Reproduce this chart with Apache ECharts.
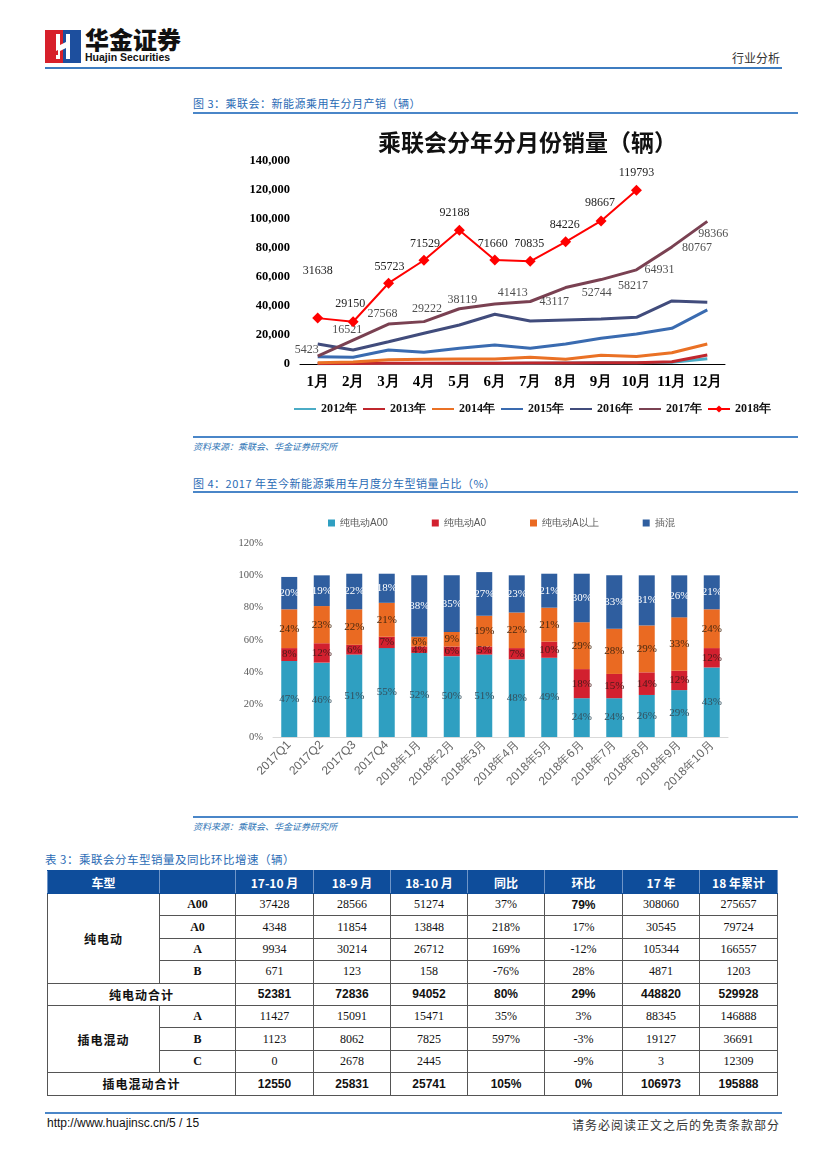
<!DOCTYPE html>
<html><head><meta charset="utf-8">
<script src="https://cdn.jsdelivr.net/npm/echarts@6/dist/echarts.min.js"></script>
<style>
html,body{margin:0;padding:0;background:#fff;}
#page{position:relative;width:827px;height:1169px;background:#fff;overflow:hidden;font-family:"Noto Sans CJK SC",sans-serif;}
.abs{position:absolute;}
.cap{font-size:11px;color:#2a6bb5;letter-spacing:0.5px;}
.src{font-size:9px;color:#2e75b6;font-style:italic;}
.bline{height:1.5px;background:#4a86c8;}
table{border-collapse:collapse;table-layout:fixed;}
td,th{border:1px solid #555;text-align:center;vertical-align:middle;padding:0;font-size:12px;font-family:"Liberation Serif",serif;color:#111;height:21.4px;}
th{background:#0e4d9b;color:#fff;font-family:"Noto Sans CJK SC",sans-serif;font-weight:bold;border-color:#0e4d9b;border-left:1px solid #6f95c8;border-right:1px solid #6f95c8;height:22px;}
td.b{font-weight:bold;font-family:"Liberation Sans",sans-serif;}
td.cn{font-family:"Noto Sans CJK SC",sans-serif;font-weight:bold;letter-spacing:1px;}
</style>
</head><body>
<div id="page">
  <svg class="abs" style="left:45px;top:30px" width="36" height="33">
    <rect x="0" y="0" width="18" height="33" fill="#d7202b"/>
    <rect x="18" y="0" width="18" height="33" fill="#1d4f9e"/>
    <path d="M11 4 h4 v11 l6 -3 v-8 h4 v25 h-4 v-11 l-6 3 v8 h-4 v-4 h2 v-5 l-2 1 z" fill="#fff"/>
  </svg>
  <div class="abs" style="left:85px;top:25px;font-size:24px;font-weight:900;color:#111;line-height:28px;">华金证券</div>
  <div class="abs" style="left:85px;top:51px;font-size:10.5px;font-weight:bold;color:#111;font-family:'Liberation Sans',sans-serif;line-height:12px;">Huajin Securities</div>
  <div class="abs" style="right:47px;top:49px;font-size:12px;color:#333;">行业分析</div>
  <div class="abs" style="left:45px;top:67px;width:737px;height:2px;background:#3d7cc0;"></div>

  <div class="abs cap" style="left:193px;top:95px;">图 3：乘联会：新能源乘用车分月产销（辆）</div>
  <div class="abs bline" style="left:193px;top:112px;width:605px;"></div>
  <div id="c1" class="abs" style="left:193px;top:118px;width:605px;height:318px;"></div>
  <div class="abs bline" style="left:193px;top:436px;width:605px;"></div>
  <div class="abs src" style="left:193px;top:440px;">资料来源：乘联会、华金证券研究所</div>

  <div class="abs cap" style="left:193px;top:475px;">图 4：2017 年至今新能源乘用车月度分车型销量占比（%）</div>
  <div class="abs bline" style="left:193px;top:491px;width:605px;"></div>
  <div id="c2" class="abs" style="left:193px;top:495px;width:605px;height:320px;"></div>
  <div class="abs bline" style="left:193px;top:816px;width:605px;"></div>
  <div class="abs src" style="left:193px;top:820px;">资料来源：乘联会、华金证券研究所</div>

  <div class="abs cap" style="left:45px;top:851px;font-size:11.5px;">表 3：乘联会分车型销量及同比环比增速（辆）</div>
  <div id="tbl" class="abs" style="left:47px;top:870px;"></div>

  <div class="abs" style="left:45px;top:1112px;width:737px;height:1.5px;background:#4a86c8;"></div>
  <div class="abs" style="left:47px;top:1116px;font-size:12px;color:#111;font-family:'Liberation Sans',sans-serif;">http://www.huajinsc.cn/5 / 15</div>
  <div class="abs" style="right:47px;top:1116px;font-size:12px;color:#333;letter-spacing:1px;">请务必阅读正文之后的免责条款部分</div>
</div>
<script>
// ---- Chart 1 data ----
const months = ['1月','2月','3月','4月','5月','6月','7月','8月','9月','10月','11月','12月'];
const sales2012 = [200, 300, 300, 400, 500, 500, 600, 700, 800, 900, 1200, 3700];
const sales2013 = [300, 400, 500, 500, 600, 600, 700, 700, 800, 900, 1600, 6200];
const sales2014 = [900, 1300, 3000, 3300, 3400, 3500, 4600, 3200, 6000, 5100, 7800, 13800];
const sales2015 = [5000, 4600, 9700, 8100, 10800, 13100, 10800, 13800, 17700, 20700, 24600, 37300];
const sales2016 = [13800, 9700, 15400, 21200, 26900, 34300, 29700, 30400, 31000, 32200, 43500, 42600];
const sales2017 = [5423, 16521, 27568, 29222, 38119, 41413, 43117, 52744, 58217, 64931, 80767, 98366];
const sales2018 = [31638, 29150, 55723, 71529, 92188, 71660, 70835, 84226, 98667, 119793];
const yearNames = ['2012年','2013年','2014年','2015年','2016年','2017年','2018年'];
const yTicks1 = [0, 140000, 20000];

// ---- Chart 2 data ----
const shareCats = ['2017Q1','2017Q2','2017Q3','2017Q4','2018年1月','2018年2月','2018年3月','2018年4月','2018年5月','2018年6月','2018年7月','2018年8月','2018年9月','2018年10月'];
const shareNames = ['纯电动A00','纯电动A0','纯电动A以上','插混'];
const shareA00 = [47, 46, 51, 55, 52, 50, 51, 48, 49, 24, 24, 26, 29, 43];
const shareA0 = [8, 12, 6, 7, 4, 6, 5, 7, 10, 18, 15, 14, 12, 12];
const shareAplus = [24, 23, 22, 21, 6, 9, 19, 22, 21, 29, 28, 29, 33, 24];
const sharePHEV = [20, 19, 22, 18, 38, 35, 27, 23, 21, 30, 33, 31, 26, 21];

// ---- Table data ----
const tableHead = ['车型','','17-10 月','18-9 月','18-10 月','同比','环比','17 年','18 年累计'];
const bevLabel = '纯电动';
const bevRows = [
  ['A00', 37428, 28566, 51274, '37%', '79%', 308060, 275657],
  ['A0', 4348, 11854, 13848, '218%', '17%', 30545, 79724],
  ['A', 9934, 30214, 26712, '169%', '-12%', 105344, 166557],
  ['B', 671, 123, 158, '-76%', '28%', 4871, 1203]
];
const bevTotal = ['纯电动合计', 52381, 72836, 94052, '80%', '29%', 448820, 529928];
const phevLabel = '插电混动';
const phevRows = [
  ['A', 11427, 15091, 15471, '35%', '3%', 88345, 146888],
  ['B', 1123, 8062, 7825, '597%', '-3%', 19127, 36691],
  ['C', 0, 2678, 2445, '', '-9%', 3, 12309]
];
const phevTotal = ['插电混动合计', 12550, 25831, 25741, '105%', '0%', 106973, 195888];

// ---- layout (not data) ----
const lineColors = ['#4bacc6','#c0272d','#ea7125','#3a6bb0','#414c7c','#7a4152','#ff0000'];
const off2017 = [[-11,-6],[-6,-10],[-6,-10],[3,-13],[3,-9],[18,-11],[24,0],[31,5],[32,6],[23,0],[25,1],[6,12]];
const off2018 = [[0,-47],[-3,-18],[1,-16],[1,-16],[-5,-17],[-2,-16],[-1,-17],[-1,-17],[-1,-18],[0,-17]];
const serif = '"Liberation Serif","Times New Roman",serif';

const c1 = echarts.init(document.getElementById('c1'));
const hist = [sales2012, sales2013, sales2014, sales2015, sales2016, sales2017];
const series1 = hist.map((d, i) => ({
  name: yearNames[i], type: 'line', data: d, symbol: 'none', showSymbol: false,
  lineStyle: {width: 3, color: lineColors[i]}, itemStyle: {color: lineColors[i]}, z: 2 + i
}));
series1.push({
  name: '2017lbl', type: 'scatter', data: sales2017.map((v, i) => ({
    value: v, label: {offset: off2017[i]}
  })), symbolSize: 1, itemStyle: {color: 'rgba(0,0,0,0)'}, z: 9,
  label: {show: true, position: 'inside', formatter: '{c}', fontFamily: serif, fontSize: 12, color: '#222'}
});
series1.push({
  name: yearNames[6], type: 'line', data: sales2018.map((v, i) => ({value: v, label: {offset: off2018[i]}})),
  symbol: 'diamond', symbolSize: 11, lineStyle: {width: 2, color: lineColors[6]}, itemStyle: {color: lineColors[6]}, z: 10,
  label: {show: true, position: 'inside', formatter: '{c}', fontFamily: serif, fontSize: 12, color: '#222'}
});
const legendData1 = yearNames.map((n, i) => i < 6 ? {name: n, itemStyle: {opacity: 0}} : {name: n});
c1.setOption({
  animation: false,
  title: {text: '乘联会分年分月份销量（辆）', left: 180, top: 8,
    textStyle: {fontSize: 23, fontWeight: 'bold', color: '#111', fontFamily: '"Noto Sans CJK SC",sans-serif'}},
  legend: {data: legendData1, top: 285, left: 100, width: 520, itemWidth: 22, itemHeight: 9, itemGap: 5, padding: 0,
    textStyle: {fontFamily: serif, fontWeight: 'bold', fontSize: 12, color: '#111'}},
  grid: {left: 107, right: 73, top: 43, bottom: 72, containLabel: false, outerBoundsMode: 'none'},
  xAxis: {type: 'category', data: months, boundaryGap: true,
    axisLine: {lineStyle: {color: '#000', width: 1}}, axisTick: {show: false},
    axisLabel: {fontFamily: serif, fontWeight: 'bold', fontSize: 15, color: '#000', margin: 11, interval: 0}},
  yAxis: {type: 'value', min: yTicks1[0], max: yTicks1[1], interval: yTicks1[2],
    axisLine: {show: false}, axisTick: {show: false}, splitLine: {show: false},
    axisLabel: {fontFamily: serif, fontWeight: 'bold', fontSize: 12.5, color: '#000', margin: 10,
      formatter: v => v.toLocaleString('en-US')}},
  series: series1
});

const c2 = echarts.init(document.getElementById('c2'));
const shareColors = ['#2f9fc1','#d2202f','#ea6a22','#2f5e9f'];
const shareLabelColors = ['#34505e','#4a1a1a','#4a2a10','#ffffff'];
const shares = [shareA00, shareA0, shareAplus, sharePHEV];
c2.setOption({
  animation: false,
  legend: {data: shareNames, top: 18, left: 130, icon: 'rect', itemWidth: 7, itemHeight: 7, itemGap: 44,
    textStyle: {fontSize: 10, color: '#595959'}},
  grid: {left: 80, right: 70, top: 48, bottom: 78, containLabel: false, outerBoundsMode: 'none'},
  xAxis: {type: 'category', data: shareCats, axisLine: {lineStyle: {color: '#d9d9d9'}}, axisTick: {show: false},
    axisLabel: {rotate: 45, fontSize: 12, color: '#666', margin: 6, interval: 0}},
  yAxis: {type: 'value', min: 0, max: 120, interval: 20, axisLine: {show: false}, axisTick: {show: false},
    splitLine: {show: false}, axisLabel: {formatter: '{value}%', fontSize: 10.5, color: '#595959', fontFamily: serif, margin: 10}},
  series: shares.map((d, i) => ({
    name: shareNames[i], type: 'bar', stack: 'total', data: d, barWidth: 16,
    itemStyle: {color: shareColors[i]},
    label: {show: true, position: 'inside', formatter: '{c}%', fontSize: 11, fontFamily: serif, color: shareLabelColors[i]}
  }))
});

// ---- table ----
function cells(row, boldAll) {
  return row.slice(1).map((v, j) => {
    const bold = boldAll || (row === bevRows[0] && j === 4);
    return '<td' + (bold ? ' class="b"' : '') + '>' + v + '</td>';
  }).join('');
}
const widths = [112, 76, 78, 77, 77, 77, 78, 77, 78];
let h = '<table style="width:730px"><colgroup>' + widths.map(w => '<col style="width:' + w + 'px">').join('') + '</colgroup>';
h += '<tr>' + tableHead.map(t => '<th>' + t + '</th>').join('') + '</tr>';
bevRows.forEach((r, i) => {
  h += '<tr>' + (i === 0 ? '<td class="cn" rowspan="' + bevRows.length + '">' + bevLabel + '</td>' : '') +
    '<td class="b" style="font-family:Liberation Serif,serif">' + r[0] + '</td>' + cells(r, false) + '</tr>';
});
h += '<tr><td class="cn" colspan="2">' + bevTotal[0] + '</td>' + cells(bevTotal, true) + '</tr>';
phevRows.forEach((r, i) => {
  h += '<tr>' + (i === 0 ? '<td class="cn" rowspan="' + phevRows.length + '">' + phevLabel + '</td>' : '') +
    '<td class="b" style="font-family:Liberation Serif,serif">' + r[0] + '</td>' + cells(r, false) + '</tr>';
});
h += '<tr><td class="cn" colspan="2">' + phevTotal[0] + '</td>' + cells(phevTotal, true) + '</tr>';
h += '</table>';
document.getElementById('tbl').innerHTML = h;
</script>
</body></html>
